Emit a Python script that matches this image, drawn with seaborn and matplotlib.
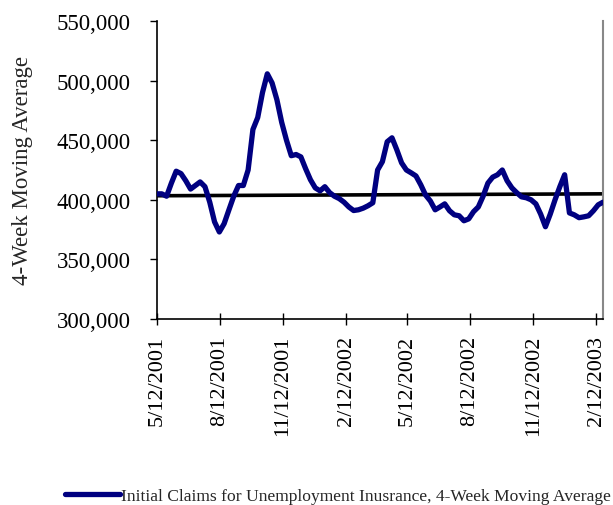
import matplotlib
matplotlib.use("Agg")
import matplotlib.pyplot as plt
import matplotlib.ticker as mticker
import numpy as np
import pandas as pd
import seaborn as sns

# Weekly 4-week moving average of initial jobless claims
start_date = "2001-05-12"
claims = [
    405000, 405000, 403000, 414000, 424000, 422000, 416000, 409000, 412000, 415000,
    411000, 398000, 381500, 373000, 380000, 391600, 403000, 412000, 412000, 425000,
    459000, 469000, 490000, 505700, 498000, 484000, 465000, 450000, 437000, 438000,
    436000, 426000, 416800, 410000, 407500, 411000, 406000, 403000, 401000, 398000,
    394000, 391000, 391600, 393000, 395000, 397500, 425000, 432000, 448700, 452000,
    442000, 431000, 425000, 422600, 420000, 412600, 404000, 399000, 391600, 394000,
    396600, 390800, 387400, 386600, 382400, 384000, 390000, 394000, 403000, 414000,
    419000, 421000, 425000, 416000, 410000, 406000, 402500, 401700, 400000, 396600,
    388000, 377400, 388000, 400000, 411000, 421000, 389000, 387400, 385000, 385700,
    386600, 390800, 395800, 398000,
]
# Linear trend endpoints
trend_values = [403400, 405000]

tick_dates = ["2001-05-12", "2001-08-12", "2001-11-12", "2002-02-12",
              "2002-05-12", "2002-08-12", "2002-11-12", "2003-02-12"]
tick_labels = ["5/12/2001", "8/12/2001", "11/12/2001", "2/12/2002",
               "5/12/2002", "8/12/2002", "11/12/2002", "2/12/2003"]
y_ticks = [300000, 350000, 400000, 450000, 500000, 550000]

series_name = "Initial Claims for Unemployment Inusrance, 4-Week Moving Average"

dates = pd.date_range(start_date, periods=len(claims), freq="7D")
df = pd.DataFrame({"date": dates, "claims": claims})
trend_df = pd.DataFrame({"date": [dates[0], dates[-1]], "trend": trend_values})

sns.set_style("white")
plt.rcParams["font.family"] = ["Liberation Serif", "DejaVu Serif"]

fig = plt.figure(figsize=(6.13, 5.06), dpi=100)
ax = fig.add_axes([157 / 613, 1 - 320 / 506, (603 - 157) / 613, (320 - 22) / 506])

sns.lineplot(data=df, x="date", y="claims", ax=ax, color="#000080",
             linewidth=3.8, label=series_name, legend=False, zorder=3)
sns.lineplot(data=trend_df, x="date", y="trend", ax=ax, color="black",
             linewidth=2.6, legend=False, zorder=2)

ax.set_xlim(dates[0], dates[-1])
ax.set_ylim(300000, 550000)
ax.set_yticks(y_ticks)
ax.yaxis.set_major_formatter(mticker.FuncFormatter(lambda v, p: f"{int(v):,}"))
ax.set_xticks(pd.to_datetime(tick_dates))
ax.set_xticklabels(tick_labels, rotation=90)

ax.tick_params(axis="y", direction="out", length=5, width=1, colors="black",
               labelsize=16.5, pad=14, left=True)
ax.tick_params(axis="x", direction="inout", length=9, width=1, colors="black",
               labelsize=16, pad=7, bottom=True)

ax.set_xlabel("")
ax.set_ylabel("4-Week Moving Average", fontsize=16.5, labelpad=17)

for side in ["left", "bottom"]:
    ax.spines[side].set_color("black")
    ax.spines[side].set_linewidth(1.2)
ax.spines["right"].set_color("#888888")
ax.spines["right"].set_linewidth(1.5)
ax.spines["top"].set_visible(False)

handles, labels = ax.get_legend_handles_labels()
fig.legend(handles[:1], labels[:1], loc="lower left", bbox_to_anchor=(53 / 613, -0.022),
           frameon=False, fontsize=12.6, handlelength=3.1, handletextpad=0.1,
           borderpad=0.2)

fig.savefig("out.png", dpi=100)
